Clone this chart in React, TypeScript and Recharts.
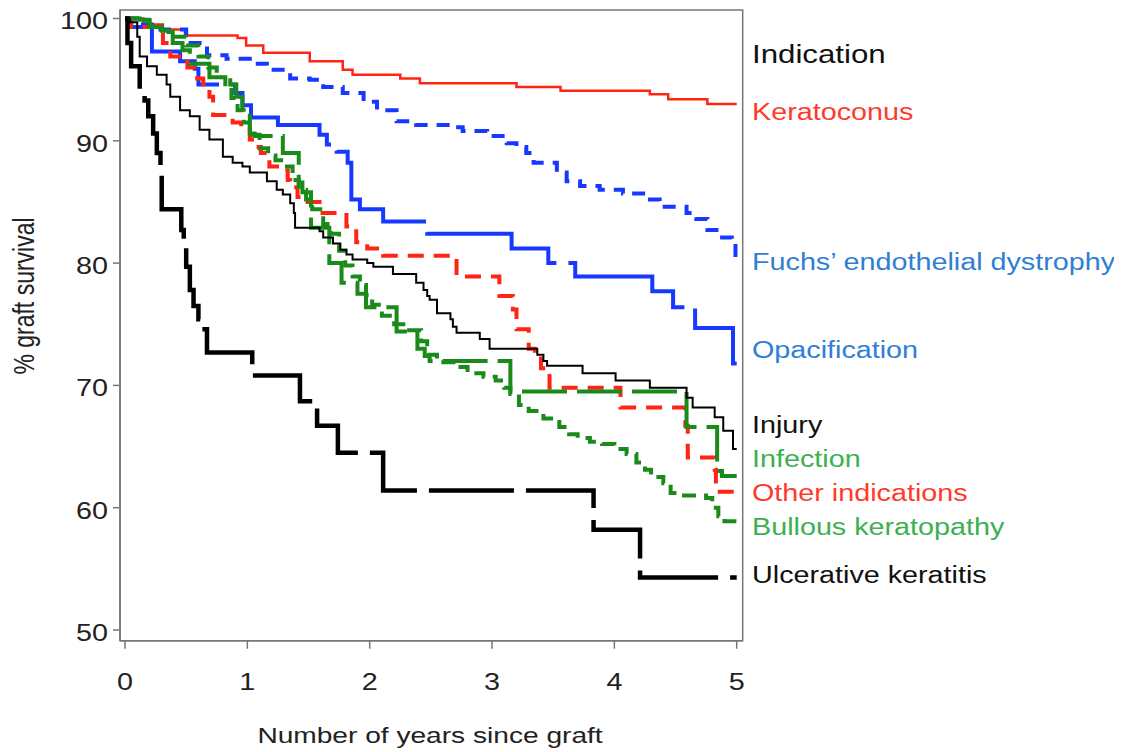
import { LineChart, Line, XAxis, YAxis, ReferenceArea } from "recharts";

// axis ticks
const yearTicks = [0, 1, 2, 3, 4, 5];
const survivalTicks = [50, 60, 70, 80, 90, 100];

// Kaplan-Meier curves: survival[i] holds from years[i] until the next step
const keratoconusYears = [0, 0.15, 0.31, 0.49, 0.92, 0.99, 1.13, 1.51, 1.78, 1.86, 2.25, 2.41, 3.2, 3.56, 4.29, 4.44, 4.76, 5.0];
const keratoconusSurvival = [100, 99.5, 99.1, 98.6, 98.4, 97.8, 97.2, 96.5, 95.8, 95.4, 95.1, 94.7, 94.4, 94.1, 93.8, 93.4, 93.0, 93.0];

const fuchsYears = [0, 0.1, 0.29, 0.5, 0.67, 0.83, 1.02, 1.16, 1.35, 1.51, 1.62, 1.78, 1.95, 2.06, 2.22, 2.38, 2.68, 2.76, 2.96, 3.12, 3.2, 3.28, 3.34, 3.53, 3.61, 3.72, 3.88, 4.07, 4.26, 4.37, 4.59, 4.67, 4.76, 4.86, 4.96, 4.99, 5.0];
const fuchsSurvival = [100, 99.5, 99.1, 98.0, 97.0, 96.7, 96.3, 95.8, 95.1, 95.0, 94.4, 93.9, 93.2, 92.5, 91.6, 91.3, 91.1, 90.8, 90.4, 89.8, 89.5, 89.0, 88.2, 87.4, 86.7, 86.3, 86.0, 85.7, 85.2, 84.6, 84.1, 83.6, 82.7, 82.1, 81.4, 80.0, 80.0];

const opacificationYears = [0, 0.05, 0.22, 0.45, 0.57, 0.6, 0.9, 0.96, 1.03, 1.25, 1.59, 1.65, 1.73, 1.82, 1.85, 1.92, 2.11, 2.47, 3.16, 3.46, 3.68, 4.31, 4.48, 4.66, 4.97, 5.0];
const opacificationSurvival = [100, 99.3, 97.3, 96.5, 95.9, 94.6, 93.9, 92.9, 91.9, 91.3, 90.5, 89.7, 89.1, 88.2, 85.2, 84.4, 83.4, 82.4, 81.2, 80.0, 78.9, 77.7, 76.4, 74.7, 71.8, 71.8];

const injuryYears = [0, 0.04, 0.1, 0.12, 0.18, 0.26, 0.34, 0.37, 0.45, 0.53, 0.61, 0.69, 0.8, 0.88, 0.96, 1.02, 1.16, 1.24, 1.29, 1.35, 1.38, 1.39, 1.59, 1.62, 1.7, 1.76, 1.81, 1.86, 1.98, 2.03, 2.19, 2.38, 2.44, 2.47, 2.49, 2.55, 2.66, 2.68, 2.71, 2.9, 2.98, 3.37, 3.42, 3.45, 3.74, 4.01, 4.29, 4.59, 4.64, 4.82, 4.89, 4.97, 5.0];
const injurySurvival = [100, 99.7, 98.5, 96.9, 96.1, 95.4, 94.6, 93.6, 92.5, 92.0, 90.9, 90.1, 88.7, 88.2, 87.9, 87.4, 86.7, 86.0, 85.6, 84.9, 84.1, 82.9, 82.6, 82.1, 81.6, 81.1, 80.7, 80.3, 80.0, 79.7, 79.1, 78.4, 77.8, 77.3, 77.0, 75.9, 75.4, 74.8, 74.3, 73.8, 73.0, 72.5, 72.0, 71.6, 71.0, 70.4, 69.8, 69.0, 68.2, 67.4, 66.3, 64.8, 64.8];

const infectionYears = [0, 0.12, 0.2, 0.29, 0.39, 0.47, 0.53, 0.69, 0.86, 0.91, 0.96, 1.02, 1.06, 1.29, 1.42, 1.45, 1.52, 1.67, 1.77, 1.9, 1.97, 2.22, 2.39, 2.45, 2.49, 3.15, 4.59, 4.84, 4.88, 5.0];
const infectionSurvival = [100, 99.9, 99.3, 98.9, 98.0, 97.4, 96.3, 95.2, 94.6, 93.6, 92.3, 90.6, 90.4, 89.0, 86.6, 85.8, 82.9, 80.0, 78.4, 77.5, 76.4, 74.4, 73.0, 72.4, 72.0, 69.5, 66.6, 63.0, 62.6, 62.6];

const otherYears = [0, 0.05, 0.31, 0.37, 0.51, 0.59, 0.64, 0.69, 0.72, 0.88, 0.95, 1.02, 1.07, 1.11, 1.18, 1.27, 1.33, 1.35, 1.41, 1.46, 1.59, 1.81, 1.89, 1.98, 2.06, 2.11, 2.71, 3.06, 3.17, 3.2, 3.3, 3.35, 3.4, 3.47, 4.05, 4.58, 4.6, 4.82, 4.83, 5.0];
const otherSurvival = [100, 99.3, 98.0, 96.9, 96.0, 95.1, 94.4, 93.6, 92.1, 91.5, 90.9, 90.1, 89.5, 89.0, 87.9, 87.6, 86.8, 86.2, 85.4, 85.0, 84.1, 83.0, 81.7, 81.2, 80.8, 80.6, 78.9, 77.3, 76.2, 74.6, 73.0, 72.4, 71.4, 69.8, 68.2, 66.7, 64.1, 63.1, 61.3, 61.3];

const bullousYears = [0, 0.1, 0.2, 0.3, 0.4, 0.5, 0.6, 0.68, 0.75, 0.82, 0.87, 0.92, 0.97, 1.02, 1.1, 1.17, 1.23, 1.3, 1.37, 1.42, 1.48, 1.53, 1.62, 1.68, 1.75, 1.8, 1.86, 1.92, 1.97, 2.02, 2.1, 2.2, 2.3, 2.42, 2.47, 2.55, 2.71, 2.8, 2.93, 3.03, 3.1, 3.15, 3.22, 3.3, 3.42, 3.5, 3.55, 3.63, 3.7, 3.8, 3.9, 4.0, 4.1, 4.18, 4.25, 4.3, 4.4, 4.46, 4.55, 4.75, 4.8, 4.85, 4.9, 5.0];
const bullousSurvival = [100, 99.8, 99.4, 99.0, 98.5, 97.8, 96.9, 96.0, 95.2, 94.4, 93.5, 92.5, 91.5, 90.5, 89.4, 88.8, 88.4, 87.9, 86.8, 86.0, 85.2, 84.4, 83.2, 82.4, 81.0, 79.8, 78.9, 78.2, 77.4, 76.6, 75.7, 75.0, 74.5, 73.6, 72.5, 71.9, 71.5, 71.0, 70.7, 70.4, 69.8, 69.3, 68.4, 67.9, 67.3, 67.0, 66.6, 66.0, 65.7, 65.4, 65.2, 64.8, 64.4, 63.7, 63.1, 62.5, 62.0, 61.2, 61.0, 60.8, 60.0, 59.3, 58.9, 58.9];

const ulcerativeYears = [0, 0.02, 0.05, 0.12, 0.16, 0.19, 0.23, 0.26, 0.29, 0.3, 0.46, 0.48, 0.5, 0.53, 0.56, 0.6, 0.62, 0.67, 1.04, 1.43, 1.57, 1.74, 2.11, 3.83, 4.21, 5.0];
const ulcerativeSurvival = [100, 98.0, 96.1, 94.2, 93.3, 92.0, 90.6, 89.0, 87.4, 84.4, 82.7, 81.4, 79.7, 77.8, 76.5, 75.4, 74.6, 72.7, 70.8, 68.7, 66.7, 64.5, 61.4, 58.2, 54.3, 54.3];

const legendTitle = "Indication";
const legendNames = [
  "Keratoconus",
  "Fuchs\u2019 endothelial dystrophy",
  "Opacification",
  "Injury",
  "Infection",
  "Other indications",
  "Bullous keratopathy",
  "Ulcerative keratitis",
];

const steps = (t: number[], s: number[]) => t.map((x, i) => ({ t: x, s: s[i] }));

const RED = "#ff2414";
const BLUE = "#1638ff";
const GREEN = "#1a8a1a";
const BLACK = "#000";

const series = [
  { key: "ker", data: steps(keratoconusYears, keratoconusSurvival), color: RED, width: 2.5, dash: undefined },
  { key: "fuchs", data: steps(fuchsYears, fuchsSurvival), color: BLUE, width: 4, dash: "13 9" },
  { key: "opac", data: steps(opacificationYears, opacificationSurvival), color: BLUE, width: 4, dash: "160 12" },
  { key: "other", data: steps(otherYears, otherSurvival), color: RED, width: 4, dash: "16 10" },
  { key: "bullous", data: steps(bullousYears, bullousSurvival), color: GREEN, width: 4, dash: "14 8" },
  { key: "infection", data: steps(infectionYears, infectionSurvival), color: GREEN, width: 4, dash: "45 10" },
  { key: "injury", data: steps(injuryYears, injurySurvival), color: BLACK, width: 2, dash: undefined },
  { key: "ulcer", data: steps(ulcerativeYears, ulcerativeSurvival), color: BLACK, width: 4.5, dash: "85 12" },
];

// legend text colours and vertical centres (chart px)
const legendColors = ["#ff3a2a", "#2f7fd3", "#2f7fd3", "#111", "#3cb050", "#ff3a2a", "#3cb050", "#111"];
const legendY = [104, 254, 342, 417, 451, 485, 519, 567];

const FONT = "'Liberation Sans', Arial, Helvetica, sans-serif";
const SX = 1.25;
const W = 1114;
const H = 744;

function YTick({ x, y, payload }: any) {
  return (
    <text transform={`translate(${x},${y + 3}) scale(${SX},1)`} textAnchor="end" dominantBaseline="central" fontSize={23} fill="#222" fontFamily={FONT}>
      {payload.value}
    </text>
  );
}

function XTick({ x, y, payload }: any) {
  return (
    <text transform={`translate(${x},${y + 39}) scale(${SX},1)`} textAnchor="middle" fontSize={23} fill="#222" fontFamily={FONT}>
      {payload.value}
    </text>
  );
}

export default function App() {
  return (
    <div style={{ position: "relative", width: W, height: H, background: "#fff" }}>
      <LineChart width={W} height={H} margin={{ top: 2, right: 379.3, left: 52, bottom: 51.3 }}>
        <XAxis
          type="number"
          dataKey="t"
          domain={[-0.041, 5.049]}
          ticks={yearTicks}
          allowDataOverflow
          height={60}
          tickSize={8}
          tickMargin={2}
          stroke="#777"
          strokeWidth={1.5}
          tick={<XTick />}
        />
        <YAxis
          type="number"
          dataKey="s"
          domain={[49.125, 100.695]}
          ticks={survivalTicks}
          allowDataOverflow
          width={60}
          tickSize={7}
          tickMargin={5}
          stroke="#777"
          strokeWidth={1.5}
          tick={<YTick />}
        />
        <ReferenceArea x1={-0.041} x2={5.049} y1={49.125} y2={100.695} fill="none" stroke="#777" strokeWidth={1.5} />
        {series.map((s) => (
          <Line
            key={s.key}
            data={s.data}
            dataKey="s"
            type="stepAfter"
            stroke={s.color}
            strokeWidth={s.width}
            strokeDasharray={s.dash}
            dot={false}
            activeDot={false}
            isAnimationActive={false}
          />
        ))}
      </LineChart>
      <svg width={W} height={H} style={{ position: "absolute", left: 0, top: 0, pointerEvents: "none" }}>
        <text transform={`translate(16,288) scale(${SX},1) rotate(-90)`} textAnchor="middle" dominantBaseline="central" fontSize={23} fill="#222" fontFamily={FONT}>
          % graft survival
        </text>
        <text transform={`translate(422,734.7) scale(${SX},1)`} textAnchor="middle" fontSize={22.5} fill="#222" fontFamily={FONT}>
          Number of years since graft
        </text>
        <text transform={`translate(744,46) scale(${SX},1)`} dominantBaseline="central" fontSize={25} fill="#111" fontFamily={FONT}>
          {legendTitle}
        </text>
        {legendNames.map((name, i) => (
          <text key={name} transform={`translate(744,${legendY[i]}) scale(${SX},1)`} dominantBaseline="central" fontSize={23} fill={legendColors[i]} fontFamily={FONT}>
            {name}
          </text>
        ))}
      </svg>
    </div>
  );
}
